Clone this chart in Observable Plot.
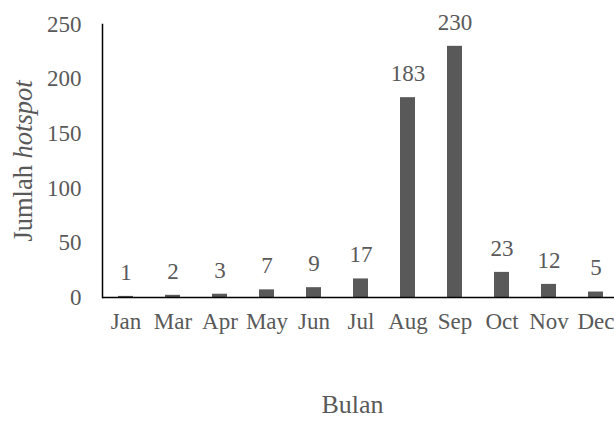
<!DOCTYPE html>
<html>
<head>
<meta charset="utf-8">
<script src="https://cdn.jsdelivr.net/npm/d3@7"></script>
<script src="https://cdn.jsdelivr.net/npm/@observablehq/plot@0.6"></script>
<style>
  html, body { margin: 0; padding: 0; background: #fff; }
</style>
</head>
<body>
<div id="chart"></div>
<script>
const months = ["Jan", "Mar", "Apr", "May", "Jun", "Jul", "Aug", "Sep", "Oct", "Nov", "Dec"];
const hotspots = [1, 2, 3, 7, 9, 17, 183, 230, 23, 12, 5];
const yTicks = [0, 50, 100, 150, 200, 250];
const xTitle = "Bulan";
const yTitle = "Jumlah hotspot";

const data = months.map((m, i) => ({month: m, value: hotspots[i]}));

const font = "'Liberation Serif', 'Times New Roman', serif";
const gray = "#595959";

const plot = Plot.plot({
  width: 614,
  height: 421,
  marginLeft: 102,
  marginRight: 0,
  marginTop: 24,
  marginBottom: 124,
  style: {fontFamily: font, fontSize: "23px", color: gray, background: "#fff"},
  x: {domain: months, range: [102, 619], paddingInner: 0.69, paddingOuter: 0.345, label: null},
  y: {domain: [0, 250], label: null},
  marks: [
    Plot.barY(data, {x: "month", y: "value", fill: gray}),
    Plot.axisY({ticks: yTicks, tickSize: 0, tickPadding: 20, dx: -1, fontSize: 23, fill: gray, label: null}),
    Plot.axisX({tickSize: 0, tickPadding: 17, dy: -2, fontSize: 23, fill: gray, label: null}),
    Plot.ruleY([0], {stroke: "#000", strokeWidth: 1.5}),
    Plot.frame({anchor: "left", stroke: "#000", strokeWidth: 1.5}),
    Plot.text(data, {x: "month", y: "value", text: d => String(d.value), dy: -24, lineAnchor: "middle", fill: gray, fontSize: 23}),
    Plot.text([xTitle], {frameAnchor: "bottom", dy: 115, dx: -6, lineAnchor: "bottom", textAnchor: "middle", fill: gray, fontSize: 26, text: d => d}),
    Plot.text([yTitle], {frameAnchor: "left", dx: -79, rotate: -90, lineAnchor: "middle", textAnchor: "middle", fill: gray, fontSize: 26.5, text: d => d, className: "ytitle"})
  ]
});

document.getElementById("chart").appendChild(plot);

// italicize "hotspot" in the y-axis title
d3.select(plot).selectAll(".ytitle text").each(function() {
  const t = d3.select(this);
  const parts = t.text().split(" ");
  t.text(null);
  t.append("tspan").text(parts[0] + " ");
  t.append("tspan").attr("font-style", "italic").text(parts.slice(1).join(" "));
});
</script>
</body>
</html>
